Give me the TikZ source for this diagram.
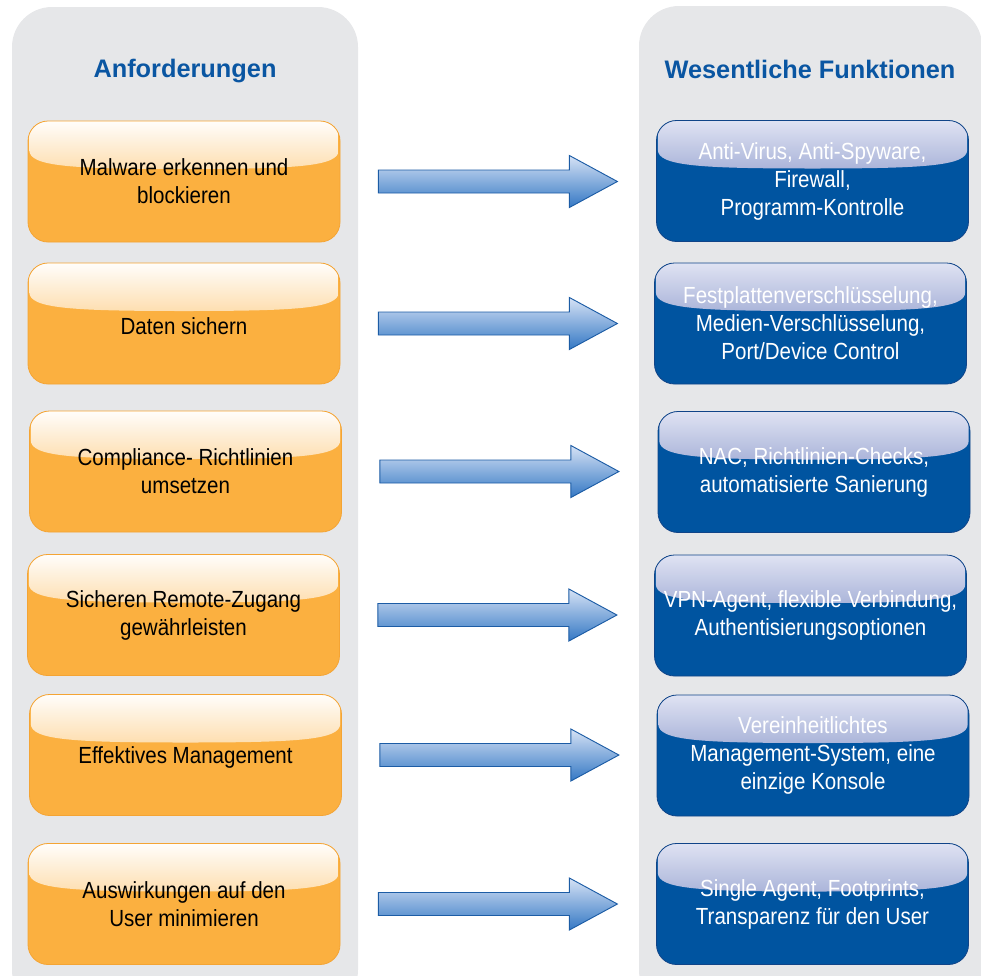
\documentclass[tikz,border=0pt]{standalone}
\usepackage{fontspec}
\setmainfont{Liberation Sans}
\newfontfamily\narrowfont[FakeStretch=0.88]{Liberation Sans}
\usepackage{tikz}
\usetikzlibrary{calc}

\definecolor{panelgray}{RGB}{230,231,233}
\definecolor{reqorange}{RGB}{251,176,64}
\definecolor{reqedge}{RGB}{244,164,52}
\definecolor{funblue}{RGB}{0,84,160}
\definecolor{funedge}{RGB}{16,68,136}
\definecolor{headblue}{RGB}{10,86,162}
\definecolor{arrowtop}{RGB}{214,226,245}
\definecolor{arrowbot}{RGB}{52,120,196}
\definecolor{arrowedge}{RGB}{28,92,165}
\definecolor{glosstop}{RGB}{226,229,244}
\definecolor{glossbot}{RGB}{92,112,180}

\tikzset{
    panel/.style={fill=panelgray, rounded corners=30pt},
    heading/.style={anchor=base, text=headblue, font=\fontsize{19}{23}\selectfont\bfseries},
    gloss/.style 2 args={path picture={
        \fill[sharp corners, top color=#1, bottom color=#2]
            ($(path picture bounding box.north west)+(1pt,2pt)$)
            -- ($(path picture bounding box.north west)+(1pt,-22pt)$)
            .. controls +(0,-12pt) and +(-85pt,0) .. ($(path picture bounding box.north)+(0,-36pt)$)
            .. controls +(85pt,0) and +(0,-12pt) .. ($(path picture bounding box.north east)+(-1pt,-22pt)$)
            -- ($(path picture bounding box.north east)+(-1pt,2pt)$) -- cycle;}},
    box/.style={rounded corners=15pt, minimum width=234pt, minimum height=90.75pt,
        align=center, line width=0.6pt, execute at begin node={\rule{0pt}{17pt}},
        font=\narrowfont\fontsize{17.5}{21}\selectfont},
    reqbox/.style={box, draw=reqedge, fill=reqorange, gloss={white}{reqorange}},
    funbox/.style={box, draw=funedge, fill=funblue, text=white, gloss={glosstop}{glossbot}},
    bigarrow/.style={draw=arrowedge, line width=0.7pt, line join=miter,
        top color=arrowtop, bottom color=arrowbot},
}

\begin{document}
\begin{tikzpicture}[x=0.75pt,y=-0.75pt]
    \useasboundingbox (0,0) rectangle (981,975);

    % grey columns
    \fill[panel] (12,7) rectangle (358,1010);
    \fill[panel] (639,6) rectangle (982,1010);

    \node[heading] (headreq) at (185,77) {Anforderungen};
    \node[heading] (headfun) at (810,78) {Wesentliche Funktionen};

    % requirements
    \node[reqbox] (req1) at (184,181.5) {Malware erkennen und\\blockieren};
    \node[reqbox] (req2) at (184,323.5) {Daten sichern};
    \node[reqbox] (req3) at (185.5,471.5) {Compliance- Richtlinien\\umsetzen};
    \node[reqbox] (req4) at (183.5,615) {Sicheren Remote-Zugang\\gewährleisten};
    \node[reqbox] (req5) at (185.5,755) {Effektives Management};
    \node[reqbox] (req6) at (184,904) {Auswirkungen auf den\\User minimieren};

    % functions
    \node[funbox] (fun1) at (812.5,181) {Anti-Virus, Anti-Spyware,\\Firewall,\\Programm-Kontrolle};
    \node[funbox] (fun2) at (810.5,323.5) {Festplattenverschlüsselung,\\Medien-Verschlüsselung,\\Port/Device Control};
    \node[funbox] (fun3) at (814,472) {NAC, Richtlinien-Checks,\\automatisierte Sanierung};
    \node[funbox] (fun4) at (810.5,615.5) {VPN-Agent, flexible Verbindung,\\Authentisierungsoptionen};
    \node[funbox] (fun5) at (813,755.5) {Vereinheitlichtes\\Management-System, eine\\einzige Konsole};
    \node[funbox] (fun6) at (812.5,904) {Single Agent, Footprints,\\Transparenz für den User};

    % block arrows
    \foreach \i in {1,...,6}
        \draw[bigarrow] ($(req\i.east)+(38,-11.5)$) -- ++(191,0) -- ++(0,-14.5)
            -- ++(48,26) -- ++(-48,26) -- ++(0,-14.5) -- ++(-191,0) -- cycle;
\end{tikzpicture}
\end{document}
